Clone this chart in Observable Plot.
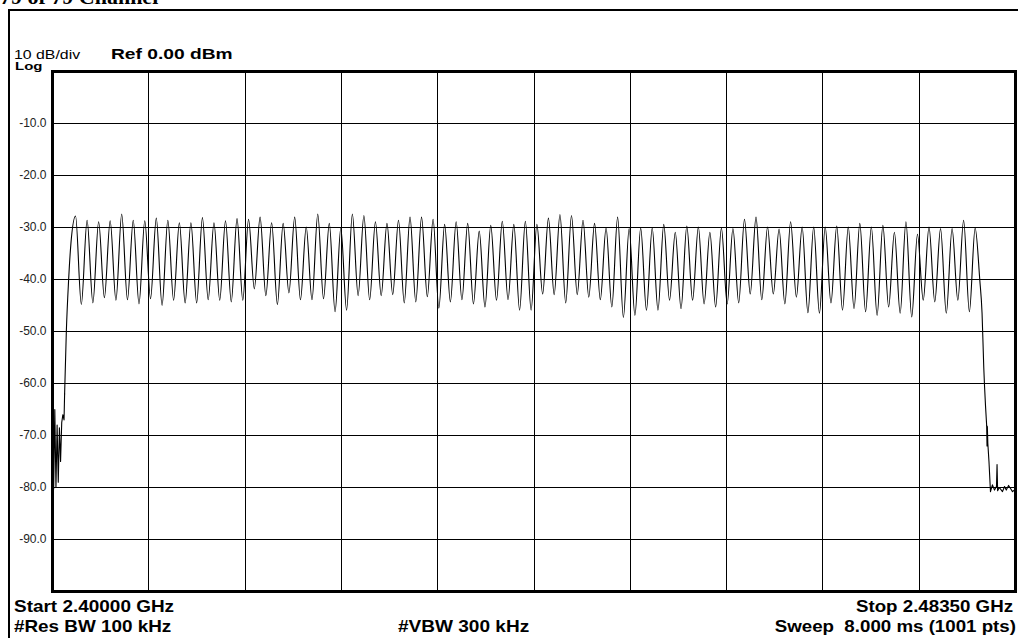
<!DOCTYPE html>
<html>
<head>
<meta charset="utf-8">
<script src="https://cdn.jsdelivr.net/npm/d3@7"></script>
<script src="https://cdn.jsdelivr.net/npm/@observablehq/plot@0.6"></script>
<style>
  html, body { margin: 0; padding: 0; background: #fff; }
  #wrap { position: relative; width: 1018px; height: 638px; overflow: hidden; background: #fff; }
  #wrap svg { position: absolute; left: 0; top: 0; }
  #outer { position: absolute; left: 8px; top: 9px; width: 1100px; height: 700px;
           border-left: 2px solid #000; border-top: 2px solid #000; }
</style>
</head>
<body>
<div id="wrap"><div id="outer"></div></div>
<script>
// ---- Data (frequency in MHz, level in dBm) ----
const channelMHz = [2402,2403,2404,2405,2406,2407,2408,2409,2410,2411,2412,2413,2414,2415,2416,2417,2418,2419,2420,2421,
  2422,2423,2424,2425,2426,2427,2428,2429,2430,2431,2432,2433,2434,2435,2436,2437,2438,2439,2440,2441,
  2442,2443,2444,2445,2446,2447,2448,2449,2450,2451,2452,2453,2454,2455,2456,2457,2458,2459,2460,2461,
  2462,2463,2464,2465,2466,2467,2468,2469,2470,2471,2472,2473,2474,2475,2476,2477,2478,2479,2480];

const peakDb = [-27.8,-28.6,-28.9,-28.7,-27.4,-28.6,-28.7,-28.2,-28.6,-29.1,-29.1,-28.1,-29.1,-28.7,-28.3,
  -28.4,-28.0,-29.1,-29.2,-28.0,-29.9,-27.4,-29.2,-30.1,-27.4,-27.7,-28.9,-29.2,-28.6,-28.0,-28.0,-28.4,
  -29.4,-28.9,-29.2,-30.7,-29.6,-28.8,-29.4,-28.8,-29.4,-28.2,-27.5,-27.7,-28.6,-29.2,-30.1,-28.0,-30.2,
  -30.1,-30.1,-29.4,-30.9,-29.7,-29.9,-30.9,-30.1,-30.2,-28.4,-28.0,-29.9,-30.3,-28.9,-29.9,-29.9,-29.9,
  -29.7,-29.9,-29.2,-29.9,-29.6,-30.9,-28.9,-31.3,-29.9,-30.2,-30.2,-28.6,-30.1];

// minimum between channel k and k+1
const troughDb = [-44.8,-44.5,-43.5,-44.0,-43.9,-44.7,-43.7,-45.0,-44.0,-44.5,-44.5,-43.9,-44.0,-44.3,-44.0,
  -41.8,-43.1,-44.8,-42.6,-43.9,-43.9,-43.7,-46.2,-45.9,-43.1,-43.9,-43.1,-42.9,-44.5,-44.3,-43.3,-45.5,
  -44.3,-43.9,-44.7,-45.3,-44.0,-43.9,-45.9,-45.9,-42.8,-42.9,-44.5,-42.9,-43.4,-43.9,-45.3,-47.3,-46.9,
  -45.9,-45.9,-44.0,-45.6,-44.0,-44.7,-45.3,-44.7,-44.5,-42.8,-43.9,-42.8,-44.7,-43.4,-46.4,-46.5,
  -44.5,-45.9,-45.6,-46.2,-46.9,-45.3,-46.5,-47.2,-44.0,-44.3,-46.5,-44.0,-46.2];

// band edges
const riseMHz = [2401.05, 2401.2, 2401.4, 2401.6];
const riseDb  = [-62.0, -50.0, -40.0, -33.0];
const fallMHz = [2480.4, 2480.6, 2480.75, 2480.9, 2481.0];
const fallDb  = [-40.0, -46.5, -57.0, -64.3, -68.1];

const leftNoiseMHz = [2400.0, 2400.05, 2400.1, 2400.2, 2400.3, 2400.4, 2400.5, 2400.6, 2400.7, 2400.8, 2400.9, 2401.0, 2401.05];
const leftNoiseDb  = [-80.5, -64.0, -80.3, -65.0, -80.0, -68.0, -79.0, -68.5, -75.0, -67.5, -66.0, -67.0, -62.0];
const rightNoiseMHz = [2481.0, 2481.03, 2481.06, 2481.1, 2481.2, 2481.33, 2481.5, 2481.68, 2481.85, 2481.9, 2481.95,
  2482.1, 2482.37, 2482.55, 2482.7, 2482.9, 2483.07, 2483.24, 2483.5];
const rightNoiseDb  = [-68.1, -72.0, -68.3, -71.5, -75.0, -80.8, -79.5, -80.5, -79.8, -75.6, -80.6,
  -80.0, -80.8, -79.8, -80.5, -79.6, -80.2, -80.8, -80.3];

const gridMHz = [2408.35, 2416.7, 2425.05, 2433.4, 2441.75, 2450.1, 2458.45, 2466.8, 2475.15];
const gridDb = [-10, -20, -30, -40, -50, -60, -70, -80, -90];
const yTickLabels = ["-10.0", "-20.0", "-30.0", "-40.0", "-50.0", "-60.0", "-70.0", "-80.0", "-90.0"];

// ---- Build trace tables ----
const comb = [];
riseMHz.forEach((f, i) => comb.push({f, db: riseDb[i]}));
channelMHz.forEach((f, i) => {
  comb.push({f, db: peakDb[i]});
  if (i < troughDb.length) comb.push({f: f + 0.5, db: troughDb[i]});
});
fallMHz.forEach((f, i) => comb.push({f, db: fallDb[i]}));
const leftNoise = leftNoiseMHz.map((f, i) => ({f, db: leftNoiseDb[i]}));
const rightNoise = rightNoiseMHz.map((f, i) => ({f, db: rightNoiseDb[i]}));

const font = "'Liberation Sans', Arial, Helvetica, sans-serif";

const chart = Plot.plot({
  width: 1018,
  height: 638,
  marginLeft: 52,
  marginRight: 3,
  marginTop: 71,
  marginBottom: 47,
  style: {background: "transparent", fontFamily: font, overflow: "visible"},
  x: {domain: [2400, 2483.5], axis: null},
  y: {domain: [-100, 0], axis: null},
  marks: [
    Plot.ruleX(gridMHz, {stroke: "#000", strokeWidth: 1, shapeRendering: "crispEdges"}),
    Plot.ruleY(gridDb, {stroke: "#000", strokeWidth: 1, shapeRendering: "crispEdges"}),
    Plot.line(comb, {x: "f", y: "db", curve: "monotone-x", stroke: "#000", strokeWidth: 1.1}),
    Plot.line(leftNoise, {x: "f", y: "db", stroke: "#000", strokeWidth: 1.1}),
    Plot.line(rightNoise, {x: "f", y: "db", stroke: "#000", strokeWidth: 1.1}),
    Plot.axisY({ticks: gridDb, tickFormat: (d, i) => yTickLabels[i], tickSize: 0, tickPadding: 6,
                fontSize: 12, fill: "#222", label: null}),
    Plot.frame({stroke: "#000", strokeWidth: 3})
  ]
});

const wrap = document.getElementById("wrap");
wrap.appendChild(chart);

const svg = d3.select(chart);
function label(text, x, y, opts) {
  return svg.append("text")
    .attr("transform", `translate(${x},${y}) scale(${opts.sx || 1},${opts.sy || 1})`)
    .attr("text-anchor", opts.anchor || "start")
    .attr("font-family", opts.family || font)
    .attr("font-size", opts.size)
    .attr("font-weight", opts.weight || "normal")
    .attr("fill", "#000")
    .style("white-space", "pre")
    .attr("xml:space", "preserve")
    .text(text);
}
label("79 of 79 Channel", 0, 4, {size: 20, weight: "bold", family: "'Liberation Serif', 'Times New Roman', serif", sx: 1.1});
label("10 dB/div", 14, 58.5, {size: 13, sx: 1.22});
label("Log", 15, 69.5, {size: 12, weight: "bold", sx: 1.25, sy: 0.92});
label("Ref 0.00 dBm", 111, 59, {size: 15, weight: "bold", sx: 1.28});
label("Start 2.40000 GHz", 14, 612, {size: 16, weight: "bold", sx: 1.185});
label("#Res BW 100 kHz", 14, 632, {size: 16, weight: "bold", sx: 1.18});
label("#VBW 300 kHz", 398, 632, {size: 16, weight: "bold", sx: 1.19});
label("Stop 2.48350 GHz", 1013, 612, {size: 16, weight: "bold", sx: 1.17, anchor: "end"});
label("Sweep  8.000 ms (1001 pts)", 1016, 632, {size: 16, weight: "bold", sx: 1.17, anchor: "end"});
</script>
</body>
</html>
